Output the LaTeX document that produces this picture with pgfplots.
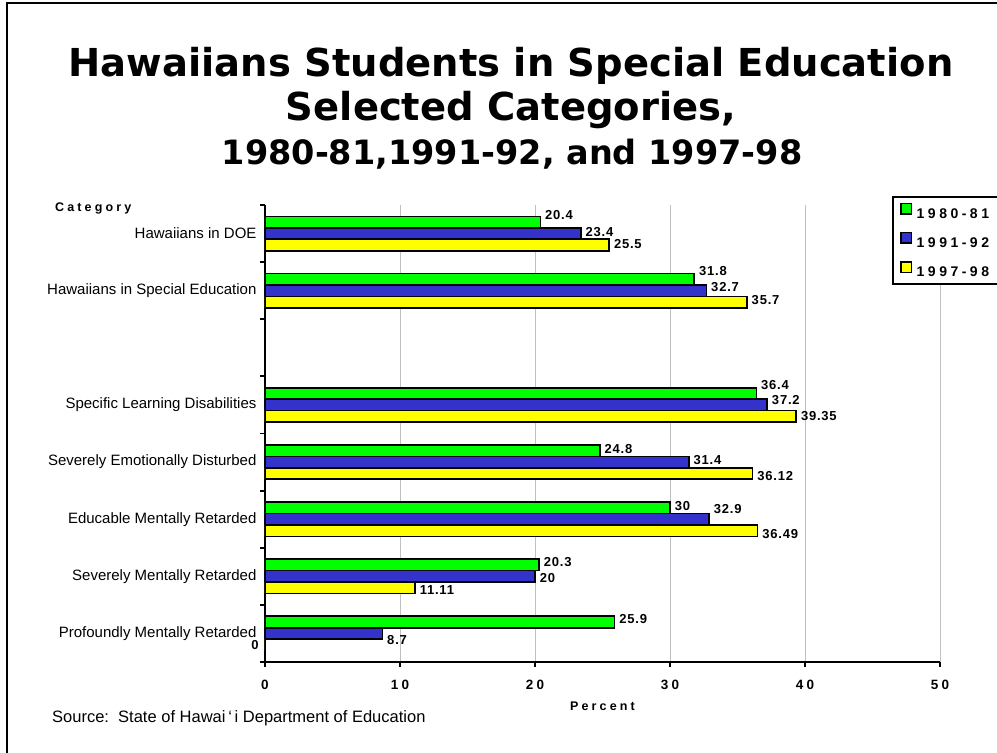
\documentclass[border=0pt]{standalone}
\usepackage{fontspec}
\setmainfont{Liberation Sans}
\newfontfamily\titlefont{DejaVu Sans}
\newfontfamily\spacedfont{Liberation Sans}[LetterSpace=25]
\newfontfamily\labelfont{Liberation Sans}[LetterSpace=6]
\usepackage{pgfplots}
\usepackage{pgfplotstable}
\pgfplotsset{compat=1.18}

\definecolor{barGreen}{RGB}{0,255,0}
\definecolor{barBlue}{RGB}{51,51,204}
\definecolor{barYellow}{RGB}{255,255,0}
\definecolor{gridGray}{RGB}{192,192,192}

% y: category slot (7 = top), x: percent, dy/dx: label offsets in pt
\pgfplotstableread{
y x dy dx
7 20.4 7.5 3
6 31.8 8 3
4 36.4 8 3
3 24.8 2 3
2 30 2 3
1 20.3 3 3
0 25.9 2.5 3
}\yearA
\pgfplotstableread{
y x dy dx
7 23.4 2 3
6 32.7 4 3
4 37.2 5 3
3 31.4 2 3
2 32.9 10 3
1 20 -2 3
0 8.7 -6.5 3
}\yearB
\pgfplotstableread{
y x dy dx
7 25.5 1 3
6 35.7 2.5 3
4 39.35 0 3
3 36.12 -3 3
2 36.49 -3.5 3
1 11.11 -2.5 3
0 0 0 -15.5
}\yearC

\begin{document}
\begin{tikzpicture}[x=1pt,y=1pt]
\useasboundingbox (0,0) rectangle (997,753);
% page frame
\draw[line width=2pt] (7,-20) -- (7,750) -- (1020,750);

% titles
\node[anchor=base, font=\titlefont\bfseries\fontsize{38.5}{40}\selectfont] at (511,676) {Hawaiians Students in Special Education};
\node[anchor=base, font=\titlefont\bfseries\fontsize{38.5}{40}\selectfont] at (511,632) {Selected Categories,};
\node[anchor=base, font=\titlefont\bfseries\fontsize{33.5}{35}\selectfont] at (512,588) {1980-81,1991-92, and 1997-98};

\begin{scope}[shift={(265,91)}]
\begin{axis}[
  at={(0,0)}, anchor=south west,
  scale only axis, width=675pt, height=457pt,
  xbar, bar width=0.2, point meta=x,
  xmin=0, xmax=50, ymin=-0.5, ymax=7.5,
  xtick={0,10,...,50},
  ytick={0,1,2,3,4,6,7},
  yticklabels={Profoundly Mentally Retarded, Severely Mentally Retarded, Educable Mentally Retarded, Severely Emotionally Disturbed, Specific Learning Disabilities, Hawaiians in Special Education, Hawaiians in DOE},
  minor ytick={-0.5,0.5,...,7.5},
  axis x line*=bottom, axis y line*=left,
  axis line style={line width=1.8pt, -},
  tick align=outside,
  major tick length=5pt, minor tick length=5pt,
  major y tick style={draw=none},
  minor y tick style={black, line width=1.8pt},
  major x tick style={black, line width=1.8pt},
  xmajorgrids, major x grid style={gridGray, line width=0.8pt},
  /pgf/number format/assume math mode=true,
  xticklabel style={font=\spacedfont\bfseries\fontsize{13.5}{15}\selectfont, yshift=-10pt},
  yticklabel style={font=\fontsize{15}{17}\selectfont},
  xlabel={Percent},
  xlabel style={font=\spacedfont\bfseries\fontsize{12.5}{14}\selectfont, at={(axis description cs:0.5,0)}, anchor=center, yshift=-44pt},
  nodes near coords,
  nodes near coords style={font=\labelfont\bfseries\fontsize{13}{15}\selectfont, inner sep=1pt},
  visualization depends on={\thisrow{dy}\as\dy},
  visualization depends on={\thisrow{dx}\as\dx},
  every node near coord/.append style={anchor=west, xshift=\dx pt, yshift=\dy pt},
  legend style={at={(0.9289,1.0197)}, anchor=north west, draw=black, line width=1.6pt,
    font=\spacedfont\bfseries\fontsize{14}{16}\selectfont,
    inner xsep=7.5pt, inner ysep=6pt, row sep=12.5pt,
    /tikz/every odd column/.append style={column sep=3.5pt},
    nodes={inner sep=1pt, text height=10pt, text depth=0pt}},
  legend cell align=left,
  legend image code/.code={\draw[#1, draw=black, line width=1.4pt] (0pt,-0.5pt) rectangle (10.5pt,10pt);},
]
\addplot[bar shift=0.2, fill=barGreen, draw=black, line width=1.6pt] table[x=x, y=y] {\yearA};
\addplot[bar shift=0, fill=barBlue, draw=black, line width=1.6pt] table[x=x, y=y] {\yearB};
\addplot[bar shift=-0.2, fill=barYellow, draw=black, line width=1.6pt] table[x=x, y=y] {\yearC};
\legend{1980-81, 1991-92, 1997-98}
\end{axis}
\end{scope}

\node[anchor=west, font=\spacedfont\bfseries\fontsize{12.5}{14}\selectfont, inner sep=0pt] at (55,545) {Category};
\node[anchor=west, font=\fontsize{16.5}{18}\selectfont, inner sep=0pt] at (52,35) {Source:\ \ State of Hawai\,‘\,i Department of Education};
\end{tikzpicture}
\end{document}
